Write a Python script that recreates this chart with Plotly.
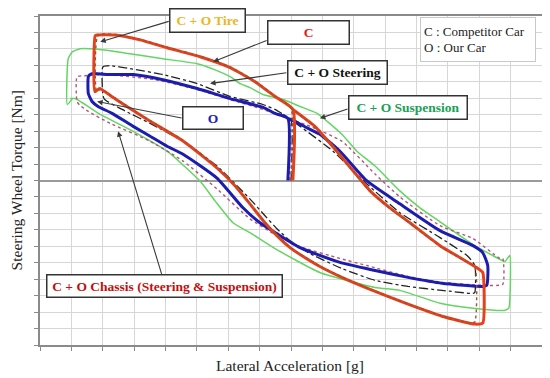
import plotly.graph_objects as go

# ---- data (x: lateral acceleration, grid units; y: steering wheel torque, grid units) ----
c_x = [0.06, 0.06, -0.51, -1.15, -1.94, -2.90, -3.95, -4.81, -5.61, -6.18, -6.24, -6.25, -6.10, -5.76, -5.38, -4.49, -3.44, -2.36, -1.78, -1.31, -0.83, -0.45, -0.03, 0.29, 0.92, 1.62, 2.52, 3.73, 4.81, 5.86, 6.11, 6.11, 5.96, 5.38, 4.75, 3.79, 3.15, 2.52, 2.04, 1.46, 0.76, 0.06]
c_y = [0.00, 4.32, 5.11, 6.01, 6.86, 7.52, 8.07, 8.55, 8.85, 8.85, 8.80, 5.40, 5.60, 5.17, 4.68, 3.60, 2.40, 0.76, -0.33, -1.42, -2.57, -3.35, -4.08, -4.50, -5.23, -5.89, -6.62, -7.52, -8.25, -8.73, -8.67, -5.59, -5.35, -4.68, -3.96, -2.57, -1.66, -0.63, 0.45, 1.78, 3.29, 4.32]

tire_x = [0.00, 0.00, -0.51, -1.15, -1.94, -2.90, -3.95, -4.81, -5.61, -6.15, -6.20, -6.05, -5.76, -5.38, -4.49, -3.44, -2.36, -1.78, -1.31, -0.83, -0.45, -0.03, 0.29, 0.92, 1.62, 2.52, 3.73, 4.81, 5.70, 5.86, 5.86, 5.38, 4.75, 3.79, 3.15, 2.52, 2.04, 1.46, 0.76, 0.00]
tire_y = [0.00, 4.40, 5.15, 6.05, 6.90, 7.56, 8.10, 8.58, 8.88, 8.85, 5.45, 5.55, 5.20, 4.72, 3.64, 2.44, 0.80, -0.30, -1.40, -2.55, -3.32, -4.05, -4.48, -5.20, -5.86, -6.60, -7.50, -8.22, -8.66, -8.60, -5.25, -4.72, -4.00, -2.60, -1.70, -0.66, 0.42, 1.75, 3.26, 4.40]

steer_x = [0.00, 0.00, -0.25, -0.51, -0.89, -1.94, -2.99, -4.08, -5.13, -5.76, -5.99, -6.02, -5.96, -5.38, -4.49, -3.44, -2.36, -1.31, -0.83, -0.45, -0.03, 0.54, 1.62, 2.68, 3.73, 4.81, 5.80, 5.86, 5.86, 5.61, 4.75, 3.47, 2.42, 1.34, 0.29, -0.25]
steer_y = [0.00, 3.70, 4.02, 4.32, 4.62, 5.11, 5.89, 6.44, 6.80, 6.98, 6.92, 6.74, 4.98, 4.32, 3.47, 2.39, 0.88, -1.12, -2.14, -2.93, -3.66, -4.38, -5.35, -6.07, -6.44, -6.68, -6.86, -6.80, -5.17, -4.56, -3.47, -1.96, -0.21, 1.78, 3.29, 4.02]

o_x = [-0.10, -0.10, -0.51, -0.89, -1.94, -2.99, -4.08, -5.03, -5.76, -6.31, -6.40, -6.46, -6.46, -6.34, -6.15, -5.70, -5.03, -4.49, -3.95, -3.44, -2.36, -1.53, -0.99, -0.45, 0.29, 1.56, 2.68, 3.73, 4.81, 6.11, 6.24, 6.27, 6.11, 5.80, 4.75, 3.47, 2.42, 1.56, 0.92, 0.54, 0.13, -0.10]
o_y = [0.00, 3.77, 4.08, 4.44, 4.98, 5.59, 6.13, 6.44, 6.44, 6.50, 6.44, 6.31, 5.29, 4.80, 4.50, 4.08, 3.29, 2.69, 2.08, 1.60, 0.15, -1.66, -2.57, -3.23, -4.08, -4.98, -5.47, -5.89, -6.25, -6.44, -6.37, -5.17, -4.38, -3.96, -3.05, -1.42, -0.03, 1.78, 2.81, 3.17, 3.60, 3.77]

susp_x = [-6.97, -7.13, -7.10, -6.97, -6.72, -6.40, -5.76, -5.13, -4.08, -2.99, -2.36, -1.94, -1.62, -1.31, -0.89, -0.25, 0.29, 0.83, 1.62, 2.10, 2.68, 3.47, 4.11, 4.75, 5.38, 5.86, 6.43, 6.82, 6.97, 6.94, 6.82, 5.80, 4.75, 3.47, 2.68, 0.92, -0.51, -1.31, -1.85, -2.42, -2.90, -3.95, -5.03, -6.08, -6.88, -7.04]
susp_y = [4.98, 4.62, 7.40, 7.82, 8.01, 8.01, 7.89, 7.70, 7.40, 7.10, 6.68, 6.31, 5.89, 5.65, 5.23, 4.92, 4.50, 4.08, 2.81, 1.78, 0.88, -0.63, -1.66, -2.51, -3.35, -3.96, -4.56, -4.92, -4.56, -7.76, -7.89, -7.76, -7.46, -6.68, -6.50, -5.59, -4.14, -3.17, -2.57, -1.24, -0.03, 1.78, 2.99, 4.02, 4.98, 4.98]

chas_x = [-0.05, -0.05, -0.10, -0.89, -1.94, -2.99, -4.33, -5.92, -6.56, -6.82, -6.82, -6.72, -6.46, -5.76, -4.49, -3.44, -2.36, -1.31, -0.45, 0.29, 1.56, 2.42, 3.73, 4.81, 6.11, 6.75, 6.75, 6.66, 5.80, 4.75, 3.47, 2.68, 1.62, 0.61, -0.10]
chas_y = [0.00, 3.75, 3.77, 4.32, 4.92, 5.53, 6.13, 6.44, 6.37, 6.31, 4.80, 4.56, 4.20, 3.47, 2.39, 1.18, -0.51, -2.33, -3.35, -4.02, -4.74, -5.17, -5.83, -6.19, -6.37, -6.31, -4.74, -4.74, -3.53, -2.75, -1.00, 0.39, 2.39, 3.29, 3.77]

SERIF = "Liberation Serif"

fig = go.Figure()

def add(x, y, color, width, dash="solid", name=""):
    fig.add_trace(go.Scatter(x=x, y=y, mode="lines", name=name,
                             line=dict(color=color, width=width, dash=dash, shape="spline", smoothing=0.5),
                             hoverinfo="skip"))

add(susp_x, susp_y, "#62d662", 1.5, name="C + O Suspension")
add(chas_x, chas_y, "#b0587a", 1.4, "dot", name="C + O Chassis")
add(steer_x, steer_y, "#222222", 1.3, "dashdot", name="C + O Steering")
add(o_x, o_y, "#1c1cae", 3, name="O")
add(c_x, c_y, "#e6401c", 3, name="C")
add(tire_x, tire_y, "#a0522d", 1.4, "dot", name="C + O Tire")

# ---- labels ----
labels = [
    # text, color, center x, center y, width, height, arrow tail (x,y), arrow head (x,y)
    ("C + O Tire", "#f0b41e", -2.66, 9.70, 74, 22, (-3.85, 9.70), (-6.08, 8.43)),
    ("C", "#e02020", 0.56, 9.00, 80, 22, (-0.73, 8.55), (-2.48, 7.22)),
    ("C + O Steering", "#111111", 1.48, 6.59, 98, 22, (-0.10, 6.56), (-2.58, 5.89)),
    ("O", "#2020c0", -2.48, 3.78, 59, 21, (-3.44, 3.78), (-6.18, 4.80)),
    ("C + O Suspension", "#1aa055", 3.73, 4.41, 117, 22, (1.85, 4.38), (0.92, 3.78)),
    ("C + O Chassis (Steering &amp; Suspension)", "#c01010", -4.03, -6.44, 234, 21, (-4.11, -5.77), (-5.51, 2.99)),
]

annotations = []
for text, col, cx, cy, w, h, tail, head in labels:
    annotations.append(dict(x=head[0], y=head[1], ax=tail[0], ay=tail[1], xref="x", yref="y",
                            axref="x", ayref="y", text="", showarrow=True, arrowhead=2,
                            arrowsize=1, arrowwidth=1.1, arrowcolor="#3a3a3a"))
for text, col, cx, cy, w, h, tail, head in labels:
    annotations.append(dict(x=cx, y=cy, xref="x", yref="y", text="<b>%s</b>" % text, showarrow=False,
                            font=dict(family=SERIF, size=13.5, color=col), bgcolor="white",
                            bordercolor="#333333", borderwidth=1.5, borderpad=0, width=w, height=h,
                            xanchor="center", yanchor="middle"))

annotations.append(dict(x=5.97, y=8.55, xref="x", yref="y",
                        text="C : Competitor Car<br>O : Our Car", align="left", showarrow=False,
                        font=dict(family=SERIF, size=13, color="#222222"), bgcolor="white",
                        bordercolor="#c8c8c8", borderwidth=1, borderpad=3, width=108, height=37,
                        xanchor="center", yanchor="middle"))

annotations.append(dict(x=0.498, y=-0.062, xref="paper", yref="paper", text="Lateral Acceleration [g]",
                        showarrow=False, font=dict(family=SERIF, size=15.5, color="#222222"),
                        xanchor="center", yanchor="middle"))
annotations.append(dict(x=-0.046, y=0.5, xref="paper", yref="paper", text="Steering Wheel Torque [Nm]",
                        showarrow=False, textangle=-90, font=dict(family=SERIF, size=15.5, color="#222222"),
                        xanchor="center", yanchor="middle"))

axis_common = dict(showgrid=True, gridcolor="#d6d6d6", gridwidth=1, showline=True, linecolor="#8a8a8a",
                   linewidth=1.5, mirror=True, ticks="outside", ticklen=4, tickcolor="#8a8a8a",
                   showticklabels=False, fixedrange=True)

# The page body keeps an 8 px default margin, so the figure is 8 px smaller on each axis
fig.update_layout(
    width=542, height=370,
    margin=dict(l=32, r=8, t=6, b=33),
    paper_bgcolor="white", plot_bgcolor="white",
    showlegend=False,
    xaxis=dict(range=[-8, 8], dtick=1, tick0=0, zeroline=False, **axis_common),
    yaxis=dict(range=[-10, 10], dtick=1, tick0=0, zeroline=True, zerolinecolor="#9a9a9a",
               zerolinewidth=2, **axis_common),
    annotations=annotations,
)

fig.write_html("out.html")
